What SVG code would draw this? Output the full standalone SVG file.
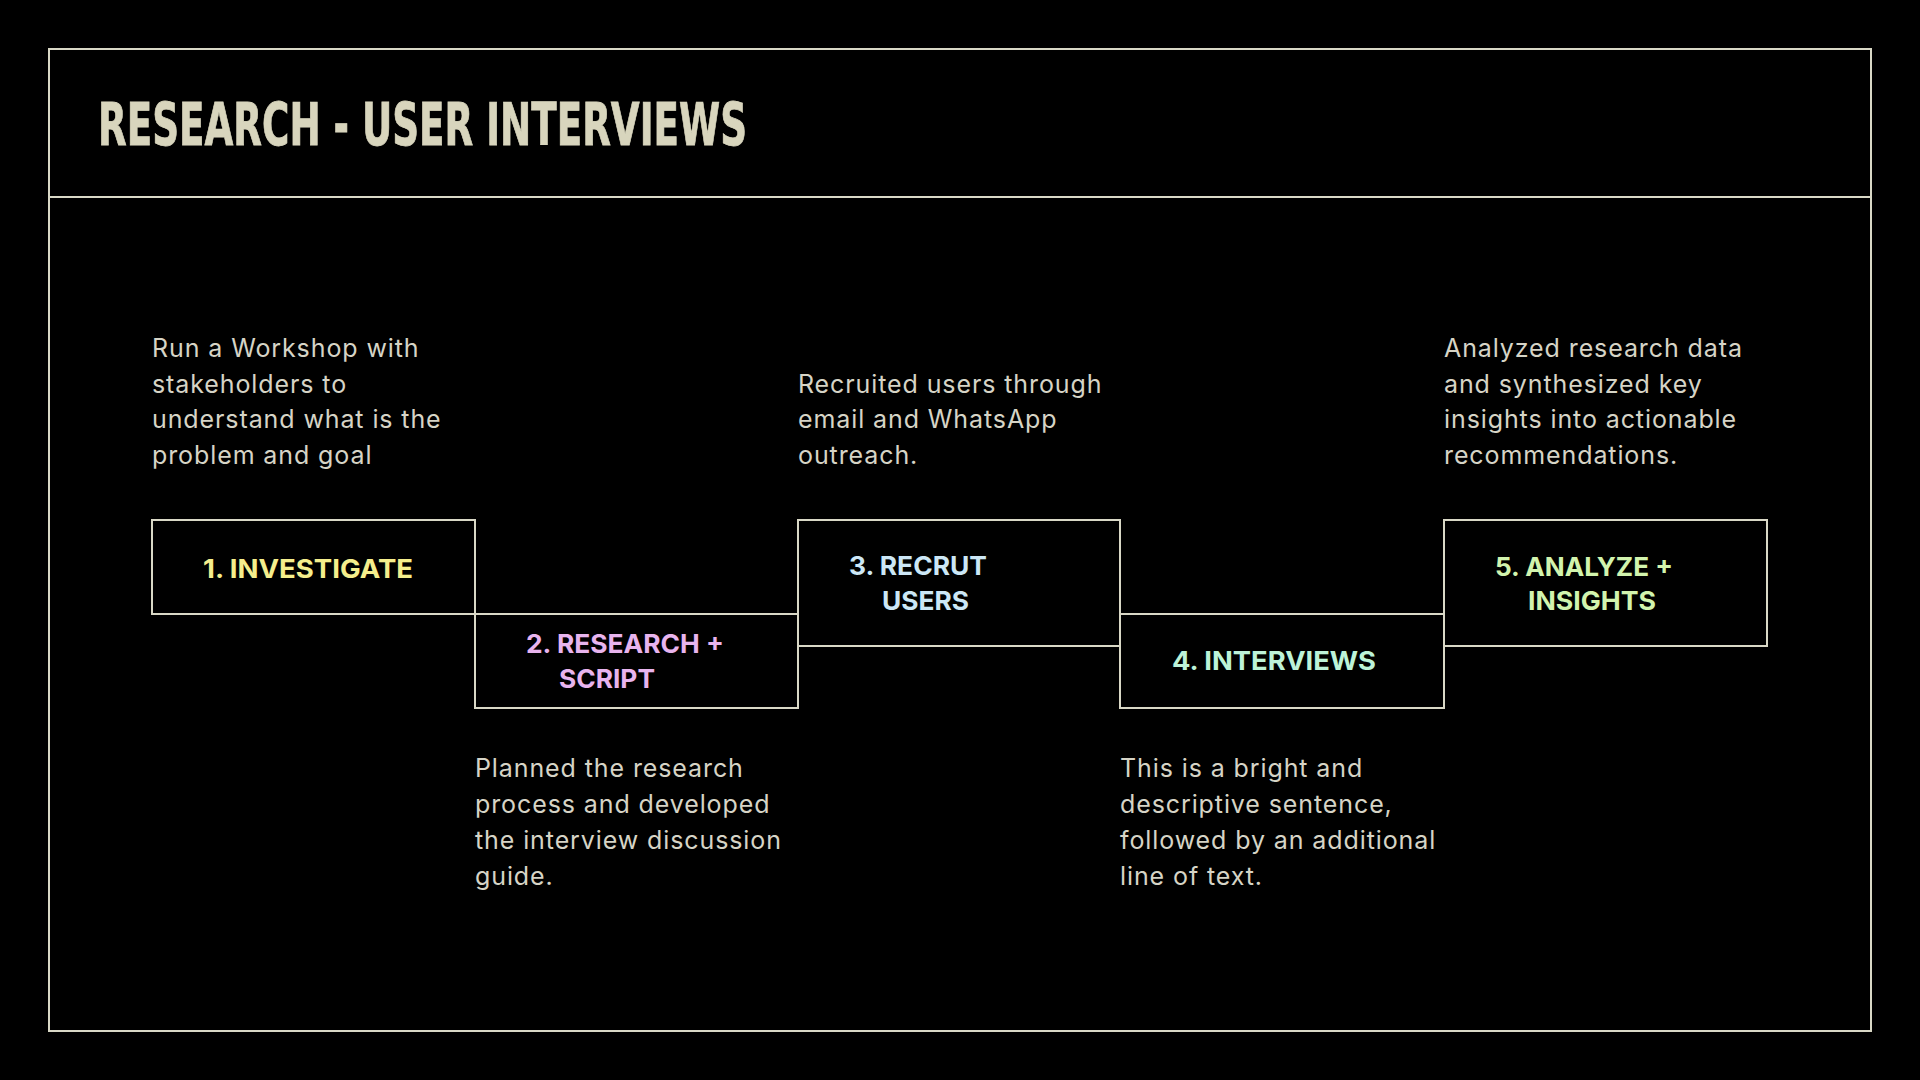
<svg xmlns="http://www.w3.org/2000/svg" width="1920" height="1080" viewBox="0 0 1920 1080">
<style>
.frame{fill:none;stroke:#D9D8C6;stroke-width:2}
.box{fill:#000;stroke:#D9D8C6;stroke-width:2}
.title{font-family:"Liberation Sans Narrow","DejaVu Sans Condensed","Roboto Condensed","Liberation Sans",sans-serif;font-weight:700;font-stretch:condensed;font-size:59px;fill:#D8D5BD;stroke:#D8D5BD;stroke-width:0.8}
.desc{font-family:Inter,"Noto Sans","Liberation Sans",sans-serif;font-size:25px;letter-spacing:0.9px;fill:#D6D4C6}
.lbl{font-family:Inter,"Liberation Sans",sans-serif;font-weight:700;font-size:26px}
.c1{fill:#F5EE8C}.c2{fill:#E8B4EE}.c3{fill:#CCE7F6}.c4{fill:#BDF3D8}.c5{fill:#D2F4AE}
</style>
<rect width="1920" height="1080" fill="#000"/>
<g id="frame">
<rect class="frame" x="49" y="49" width="1822" height="982"/>
<line class="frame" x1="49" y1="197" x2="1871" y2="197"/>
<text class="title" x="98" y="145" textLength="649" lengthAdjust="spacingAndGlyphs">RESEARCH - USER INTERVIEWS</text>
</g>
<g id="connectors"></g>
<g id="step1">
<rect class="box" x="152" y="520" width="323" height="94"/>
<text class="lbl c1" x="203" y="578" textLength="210" lengthAdjust="spacingAndGlyphs">1. INVESTIGATE</text>
<text class="desc"><tspan x="152" y="357">Run a Workshop with</tspan><tspan x="152" y="393">stakeholders to</tspan><tspan x="152" y="428">understand what is the</tspan><tspan x="152" y="464">problem and goal</tspan></text>
</g>
<g id="step2">
<rect class="box" x="475" y="614" width="323" height="94"/>
<text class="lbl c2" x="526" y="653" textLength="198" lengthAdjust="spacingAndGlyphs">2. RESEARCH +</text>
<text class="lbl c2" x="559" y="688" textLength="96" lengthAdjust="spacingAndGlyphs">SCRIPT</text>
<text class="desc"><tspan x="475" y="777">Planned the research</tspan><tspan x="475" y="813">process and developed</tspan><tspan x="475" y="849">the interview discussion</tspan><tspan x="475" y="885">guide.</tspan></text>
</g>
<g id="step3">
<rect class="box" x="798" y="520" width="322" height="126"/>
<text class="lbl c3" x="849" y="575" textLength="138" lengthAdjust="spacingAndGlyphs">3. RECRUT</text>
<text class="lbl c3" x="882" y="610" textLength="87" lengthAdjust="spacingAndGlyphs">USERS</text>
<text class="desc"><tspan x="798" y="393">Recruited users through</tspan><tspan x="798" y="428">email and WhatsApp</tspan><tspan x="798" y="464">outreach.</tspan></text>
</g>
<g id="step4">
<rect class="box" x="1120" y="614" width="324" height="94"/>
<text class="lbl c4" x="1172" y="670" textLength="204" lengthAdjust="spacingAndGlyphs">4. INTERVIEWS</text>
<text class="desc"><tspan x="1120" y="777">This is a bright and</tspan><tspan x="1120" y="813">descriptive sentence,</tspan><tspan x="1120" y="849">followed by an additional</tspan><tspan x="1120" y="885">line of text.</tspan></text>
</g>
<g id="step5">
<rect class="box" x="1444" y="520" width="323" height="126"/>
<text class="lbl c5" x="1495" y="576" textLength="178" lengthAdjust="spacingAndGlyphs">5. ANALYZE +</text>
<text class="lbl c5" x="1528" y="610" textLength="128" lengthAdjust="spacingAndGlyphs">INSIGHTS</text>
<text class="desc"><tspan x="1444" y="357">Analyzed research data</tspan><tspan x="1444" y="393">and synthesized key</tspan><tspan x="1444" y="428">insights into actionable</tspan><tspan x="1444" y="464">recommendations.</tspan></text>
</g>
</svg>
